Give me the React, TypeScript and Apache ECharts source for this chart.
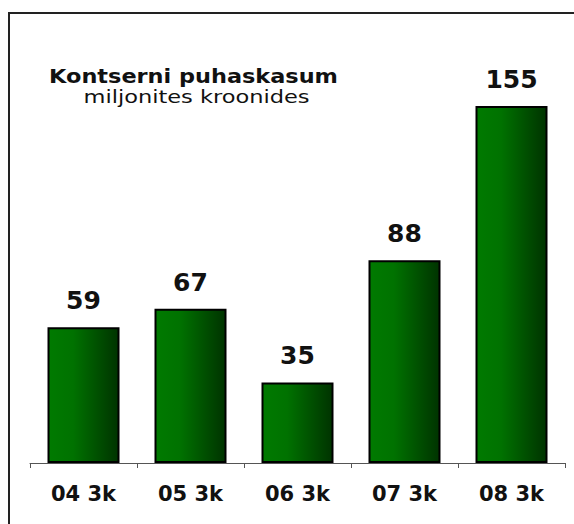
import React, { useEffect, useRef } from "react";
import * as echarts from "echarts";

const categories = ["04 3k", "05 3k", "06 3k", "07 3k", "08 3k"];
const values = [59, 67, 35, 88, 155];
const titleText = "Kontserni puhaskasum";
const subtitleText = "miljonites kroonides";

const FONT = "'DejaVu Sans', Verdana, sans-serif";

export default function App() {
  const ref = useRef<HTMLDivElement>(null);
  useEffect(() => {
    document.body.style.margin = "0";
    const chart = echarts.init(ref.current!, null, { renderer: "svg" });
    chart.setOption({
      animation: false,
      backgroundColor: "#ffffff",
      grid: { left: 30, right: 9, top: 60, bottom: 61, containLabel: false },
      xAxis: {
        type: "category",
        data: categories,
        axisLine: { lineStyle: { color: "#555", width: 1 } },
        axisTick: { show: true, length: 5, lineStyle: { color: "#555" } },
        axisLabel: {
          color: "#111",
          fontFamily: FONT,
          fontWeight: "bold",
          fontSize: 21,
          margin: 20,
        },
      },
      yAxis: {
        type: "value",
        min: 0,
        max: 175,
        show: false,
        splitLine: { show: false },
      },
      series: [
        {
          type: "bar",
          data: values,
          barWidth: 72,
          itemStyle: {
            borderColor: "#000",
            borderWidth: 2,
            color: new echarts.graphic.LinearGradient(0, 0, 1, 0, [
              { offset: 0, color: "#007a00" },
              { offset: 0.35, color: "#007200" },
              { offset: 1, color: "#003300" },
            ]),
          },
          label: {
            show: true,
            position: "top",
            distance: 14,
            color: "#111",
            fontFamily: FONT,
            fontWeight: "bold",
            fontSize: 25,
          },
        },
      ],
      graphic: [
        {
          type: "line",
          shape: { x1: 8, y1: 13, x2: 574, y2: 13 },
          style: { stroke: "#222", lineWidth: 2 },
        },
        {
          type: "line",
          shape: { x1: 9, y1: 12, x2: 9, y2: 524 },
          style: { stroke: "#222", lineWidth: 2 },
        },
        {
          type: "text",
          x: 193.5,
          y: 86,
          scaleX: 1.12,
          style: {
            text: titleText,
            fill: "#111",
            font: `bold 20px ${FONT}`,
            textAlign: "center",
            textVerticalAlign: "bottom",
          },
        },
        {
          type: "text",
          x: 196.5,
          y: 106,
          scaleX: 1.25,
          style: {
            text: subtitleText,
            fill: "#111",
            font: `18px ${FONT}`,
            textAlign: "center",
            textVerticalAlign: "bottom",
          },
        },
      ],
    });
    return () => chart.dispose();
  }, []);
  return <div ref={ref} style={{ width: 574, height: 524 }} />;
}
